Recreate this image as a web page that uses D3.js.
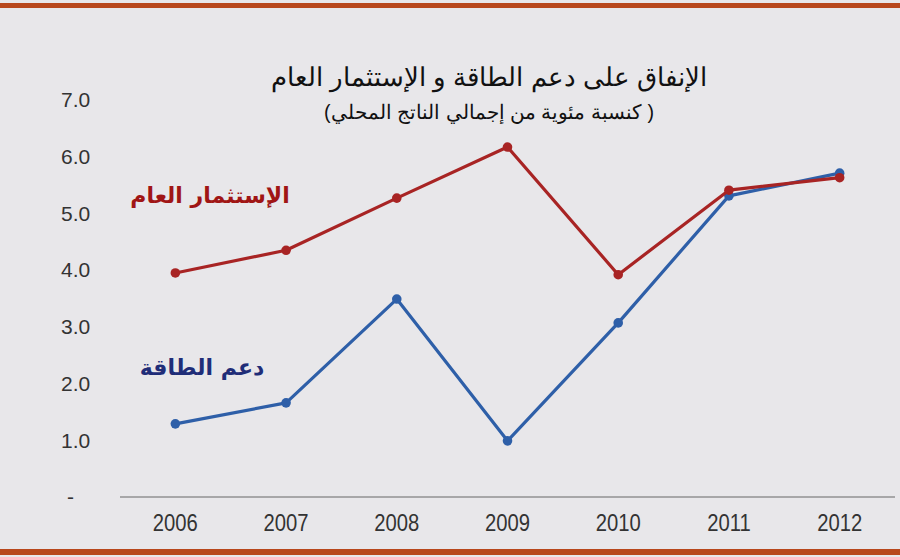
<!DOCTYPE html>
<html>
<head>
<meta charset="utf-8">
<script src="https://cdnjs.cloudflare.com/ajax/libs/d3/7.8.5/d3.min.js"></script>
<style>
  html, body { margin: 0; padding: 0; background: #e8e7ea; }
  svg { display: block; }
</style>
</head>
<body>
<svg id="chart" width="900" height="557"></svg>
<script>
// Years on the x axis
const years = ["2006", "2007", "2008", "2009", "2010", "2011", "2012"];
// Public investment, % of GDP
const investment = [3.95, 4.35, 5.27, 6.17, 3.92, 5.41, 5.63];
// Energy subsidies, % of GDP
const subsidies = [1.29, 1.66, 3.49, 0.99, 3.07, 5.31, 5.71];
// Y axis ticks
const yTicks = [0, 1, 2, 3, 4, 5, 6, 7];

const title = "الإنفاق على دعم الطاقة و الإستثمار العام";
const subtitle = "( كنسبة مئوية من إجمالي الناتج المحلي)";
const investmentLabel = "الإستثمار العام";
const subsidiesLabel = "دعم الطاقة";

const svg = d3.select("#chart");
const W = 900, H = 557;

svg.append("rect").attr("width", W).attr("height", H).attr("fill", "#e8e7ea");

// top and bottom rules
svg.append("rect").attr("x", 0).attr("y", 3).attr("width", W).attr("height", 5).attr("fill", "#b8471c");
svg.append("rect").attr("x", 0).attr("y", 549).attr("width", W).attr("height", 6).attr("fill", "#b8471c");

const x = d3.scaleBand().domain(years).range([120, 895]);
const y = d3.scaleLinear().domain([0, 7]).range([497, 100]);

// baseline
svg.append("line")
  .attr("x1", 120).attr("x2", 895)
  .attr("y1", y(0)).attr("y2", y(0))
  .attr("stroke", "#666").attr("stroke-width", 1);

// y tick labels
svg.append("g").selectAll("text").data(yTicks).join("text")
  .attr("x", 61).attr("y", d => y(d))
  .attr("dy", "0.35em")
  .attr("font-family", "Liberation Sans, Arial, sans-serif")
  .attr("font-size", 21).attr("fill", "#333")
  .text(d => d === 0 ? "-" : d3.format(".1f")(d))
  .attr("dx", d => d === 0 ? 6 : 0);

// x tick labels (slightly condensed digits)
svg.append("g").selectAll("text").data(years).join("text")
  .attr("transform", d => `translate(${x(d) + x.bandwidth() / 2},523) scale(0.88,1)`)
  .attr("dy", "0.35em")
  .attr("text-anchor", "middle")
  .attr("font-family", "Liberation Sans, Arial, sans-serif")
  .attr("font-size", 23).attr("fill", "#333")
  .text(d => d);

const cx = d => x(d) + x.bandwidth() / 2;
const line = d3.line().x((d, i) => cx(years[i])).y(d => y(d));

function drawSeries(values, color) {
  svg.append("path").datum(values)
    .attr("d", line).attr("fill", "none")
    .attr("stroke", color).attr("stroke-width", 3.2)
    .attr("stroke-linejoin", "round");
  svg.append("g").selectAll("circle").data(values).join("circle")
    .attr("cx", (d, i) => cx(years[i])).attr("cy", d => y(d))
    .attr("r", 4.8).attr("fill", color);
}

drawSeries(subsidies, "#2e5fa8");
drawSeries(investment, "#a82424");

// title
svg.append("text")
  .attr("x", 489).attr("y", 86)
  .attr("text-anchor", "middle")
  .attr("font-family", "Liberation Sans, Arial, sans-serif")
  .attr("font-size", 26.3).attr("fill", "#111")
  .attr("direction", "rtl")
  .text(title);
svg.append("text")
  .attr("x", 489).attr("y", 119)
  .attr("text-anchor", "middle")
  .attr("font-family", "Liberation Sans, Arial, sans-serif")
  .attr("font-size", 19.7).attr("fill", "#111")
  .attr("direction", "rtl")
  .text(subtitle);

// series labels
svg.append("text")
  .attr("x", 210).attr("y", 203)
  .attr("text-anchor", "middle")
  .attr("font-family", "DejaVu Sans, Arial, sans-serif")
  .attr("font-weight", "bold")
  .attr("font-size", 22).attr("fill", "#a01515")
  .attr("direction", "rtl")
  .text(investmentLabel);
svg.append("text")
  .attr("x", 202).attr("y", 375)
  .attr("text-anchor", "middle")
  .attr("font-family", "DejaVu Sans, Arial, sans-serif")
  .attr("font-weight", "bold")
  .attr("font-size", 22).attr("fill", "#1f2d78")
  .attr("direction", "rtl")
  .text(subsidiesLabel);
</script>
</body>
</html>
